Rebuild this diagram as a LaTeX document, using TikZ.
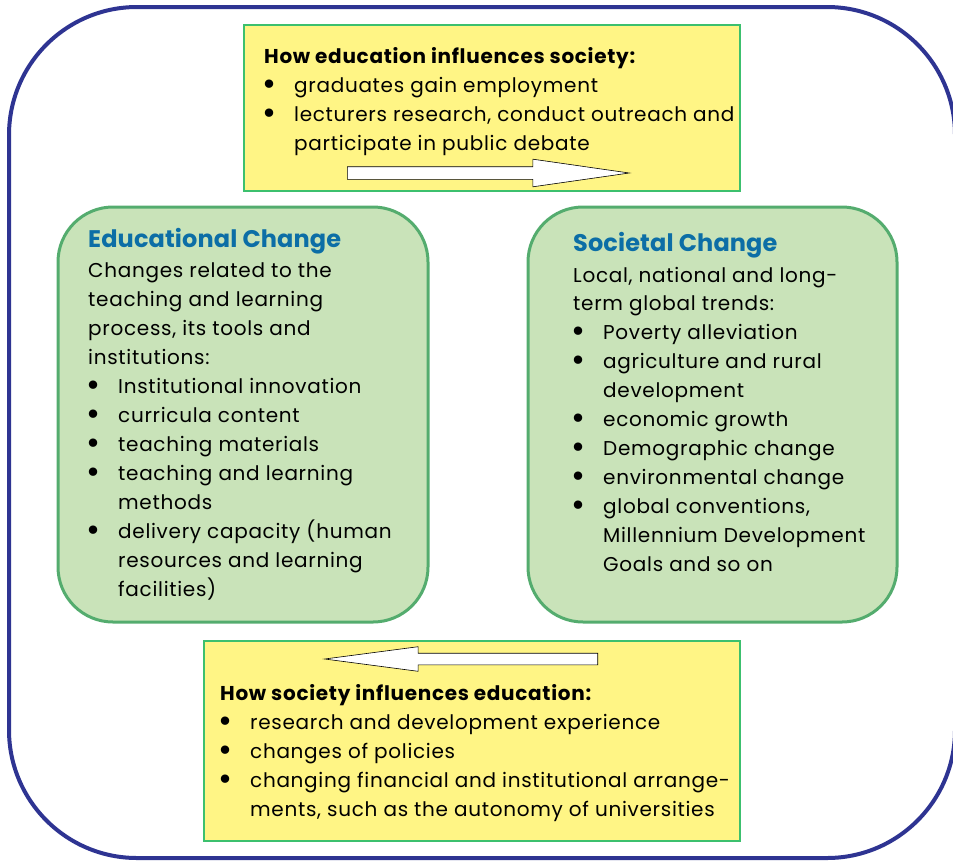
\documentclass[tikz,border=0pt]{standalone}
\usepackage{fontspec}
\setmainfont{Poppins}[LetterSpace=3.5]
\usepackage{tikz}
\usetikzlibrary{shapes.arrows}

\definecolor{framebl}{RGB}{46,52,146}
\definecolor{boxyel}{RGB}{255,245,133}
\definecolor{yelline}{RGB}{60,192,110}
\definecolor{boxgrn}{RGB}{201,227,185}
\definecolor{grnline}{RGB}{84,172,110}
\definecolor{headbl}{RGB}{12,110,166}

\newcommand{\itm}{\makebox[30pt][l]{\hspace{-2pt}\raisebox{-3.5pt}{\fontsize{34}{29}\selectfont\textbullet}}}
\newcommand{\cnt}{\hspace*{30pt}}
\newcommand{\hd}[1]{\textcolor{headbl}{\fontsize{24}{29}\selectfont\bfseries\addfontfeature{LetterSpace=0.5}#1}}

\tikzset{
  yelbox/.style={draw=yelline, line width=1.5pt, fill=boxyel, inner sep=0pt},
  grnbox/.style={draw=grnline, line width=3pt, fill=boxgrn, rounded corners=55pt, inner sep=0pt},
  % anchor is the baseline of the last line
  txt/.style={align=left, inner sep=0pt, anchor=base west, font=\fontsize{20}{29}\selectfont},
  bigarrow/.style={single arrow, draw=black, line width=0.6pt, fill=white, inner sep=0pt, single arrow head indent=0pt, anchor=tail}
}

\begin{document}
\begin{tikzpicture}[x=1pt, y=-1pt]
    \useasboundingbox (0,0) rectangle (953,860);
    \draw[framebl, line width=4pt, rounded corners=128pt] (9,7) rectangle (955,858);

    % the four boxes
    \node[yelbox, minimum width=496pt, minimum height=166pt] (infl) at (492,108) {};
    \node[grnbox, minimum width=370pt, minimum height=415pt] (edu) at (243,414.5) {};
    \node[grnbox, minimum width=369pt, minimum height=415pt] (soc) at (712.5,414.5) {};
    \node[yelbox, minimum width=536pt, minimum height=200pt] (back) at (472,741) {};

    % texts
    \node[txt] (infltxt) at (264,150) {\textbf{How education influences society:}\\
        \itm graduates gain employment\\
        \itm lecturers research, conduct outreach and\\
        \cnt participate in public debate};
    \node[txt] (edutxt) at (88,596) {\hd{Educational Change}\\[1pt]
        Changes related to the\\
        teaching and learning\\
        process, its tools and\\
        institutions:\\
        \itm Institutional innovation\\
        \itm curricula content\\
        \itm teaching materials\\
        \itm teaching and learning\\
        \cnt methods\\
        \itm delivery capacity (human\\
        \cnt resources and learning\\
        \cnt facilities)};
    \node[txt] (soctxt) at (573,571) {\hd{Societal Change}\\[2pt]
        Local, national and long-\\[-1pt]
        term global trends:\\
        \itm Poverty alleviation\\
        \itm agriculture and rural\\
        \cnt development\\
        \itm economic growth\\
        \itm Demographic change\\
        \itm environmental change\\
        \itm global conventions,\\
        \cnt Millennium Development\\
        \cnt Goals and so on};
    \node[txt] (backtxt) at (220,816) {\textbf{How society influences education:}\\
        \itm research and development experience\\
        \itm changes of policies\\
        \itm changing financial and institutional arrange-\\
        \cnt ments, such as the autonomy of universities};

    % block arrows
    \node[bigarrow, text height=6pt, text depth=6pt, minimum height=282pt, single arrow head extend=7.5pt, single arrow tip angle=16.3] (fwd) at (347,173) {};
    \node[bigarrow, text height=5.5pt, text depth=5.5pt, minimum height=273pt, single arrow head extend=6.5pt, single arrow tip angle=15, shape border rotate=180] (bwd) at (598,659) {};
\end{tikzpicture}
\end{document}
